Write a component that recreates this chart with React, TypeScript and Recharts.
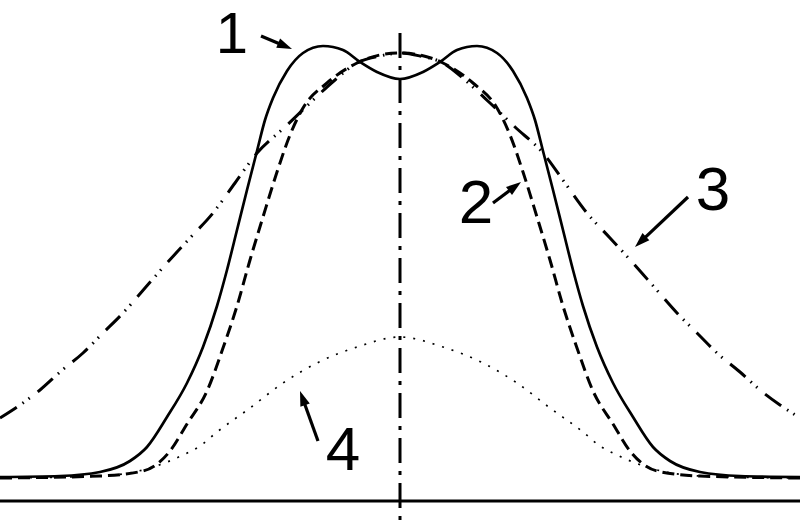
import React from 'react';
import { LineChart, Line, XAxis, YAxis, ReferenceLine } from 'recharts';

// curve 1 (solid)
const solidX = [-400, -340, -300, -270, -253, -233, -213, -197, -183, -173, -163, -153, -143, -135, -127, -113, -97, -77, -57, -40, -23, 0, 23, 40, 57, 77, 97, 113, 127, 135, 143, 153, 163, 173, 183, 197, 213, 233, 253, 270, 300, 340, 400];
const solidY = [1, 2, 6, 17, 31, 61, 95, 131, 172, 208, 248, 288, 327, 358, 380, 407, 425, 432, 428, 416, 406, 399, 406, 416, 428, 432, 425, 407, 380, 358, 327, 288, 248, 208, 172, 131, 95, 61, 31, 17, 6, 2, 1];

// curve 2 (dashed)
const dashedX = [-400, -300, -257, -230, -213, -193, -177, -163, -150, -137, -123, -110, -97, -73, -43, -20, 0, 20, 43, 73, 97, 110, 123, 137, 150, 163, 177, 193, 213, 230, 257, 300, 400];
const dashedY = [0, 2, 7, 27, 54, 87, 130, 172, 218, 261, 306, 343, 370, 395, 415, 423, 425, 423, 415, 395, 370, 343, 306, 261, 218, 172, 130, 87, 54, 27, 7, 2, 0];

// curve 3 (dash-dot-dot)
const wideX = [-400, -380, -360, -340, -317, -297, -277, -255, -233, -210, -187, -165, -143, -115, -90, -65, -43, -20, 0, 20, 43, 65, 90, 115, 143, 165, 187, 210, 233, 255, 277, 297, 317, 340, 360, 380, 400];
const wideY = [60, 73, 88, 106, 125, 145, 165, 190, 215, 240, 265, 295, 325, 351, 375, 398, 415, 422, 425, 422, 415, 398, 375, 351, 325, 295, 265, 240, 215, 190, 165, 145, 125, 106, 88, 73, 60];

// curve 4 (dotted)
const lowX = [-400, -300, -250, -217, -200, -183, -150, -117, -83, -43, 0, 43, 83, 117, 150, 183, 200, 217, 250, 300, 400];
const lowY = [0, 2, 10, 23, 32, 46, 70, 95, 115, 131, 141, 131, 115, 95, 70, 46, 32, 23, 10, 2, 0];

const toRows = (xs: number[], ys: number[]) => xs.map((x, i) => ({ x, y: ys[i] }));

const solidData = toRows(solidX, solidY);
const dashedData = toRows(dashedX, dashedY);
const wideData = toRows(wideX, wideY);
const lowData = toRows(lowX, lowY);

const W = 800;
const H = 526;

const labels = [
  { text: '1', size: 58, tx: 232, ty: 53, from: [261, 36], to: [292, 49] },
  { text: '2', size: 62, tx: 476, ty: 223, from: [493, 203], to: [521, 182] },
  { text: '3', size: 62, tx: 713, ty: 210, from: [688, 197], to: [635, 247] },
  { text: '4', size: 62, tx: 343, ty: 470, from: [318, 441], to: [300, 391] },
];

const Arrow = ({ from, to }: { from: number[]; to: number[] }) => {
  const dx = to[0] - from[0];
  const dy = to[1] - from[1];
  const len = Math.sqrt(dx * dx + dy * dy);
  const ux = dx / len;
  const uy = dy / len;
  const head = 15;
  const half = 5;
  const bx = to[0] - ux * head;
  const by = to[1] - uy * head;
  const pts = `${to[0]},${to[1]} ${bx - uy * half},${by + ux * half} ${bx + uy * half},${by - ux * half}`;
  return (
    <g>
      <line x1={from[0]} y1={from[1]} x2={bx + ux * 2} y2={by + uy * 2} stroke="#000" strokeWidth={3.2} />
      <polygon points={pts} fill="#000" />
    </g>
  );
};

export default function App() {
  return (
    <div style={{ position: 'absolute', left: 0, top: 0, width: W, height: H, background: '#fff' }}>
      <LineChart width={W} height={H} margin={{ top: 0, right: 0, bottom: 0, left: 0 }}>
        <XAxis dataKey="x" type="number" domain={[-400, 400]} hide allowDataOverflow />
        <YAxis type="number" domain={[-48, 478]} hide allowDataOverflow />
        <ReferenceLine y={-23} stroke="#000" strokeWidth={3} />
        <ReferenceLine
          segment={[{ x: 0, y: 445 }, { x: 0, y: -48 }]}
          stroke="#000"
          strokeWidth={3}
          strokeDasharray="25 8 4 8"
        />
        <Line data={lowData} dataKey="y" type="monotone" stroke="#000" strokeWidth={1.7} strokeDasharray="2 8" dot={false} activeDot={false} isAnimationActive={false} />
        <Line data={wideData} dataKey="y" type="monotone" stroke="#000" strokeWidth={3} strokeDasharray="20 7 1.5 6 1.5 10" dot={false} activeDot={false} isAnimationActive={false} />
        <Line data={dashedData} dataKey="y" type="monotone" stroke="#000" strokeWidth={3} strokeDasharray="12 6" dot={false} activeDot={false} isAnimationActive={false} />
        <Line data={solidData} dataKey="y" type="monotone" stroke="#000" strokeWidth={2.7} dot={false} activeDot={false} isAnimationActive={false} />
      </LineChart>
      <svg width={W} height={H} style={{ position: 'absolute', left: 0, top: 0, pointerEvents: 'none' }}>
        {labels.map((l) => (
          <g key={l.text}>
            <text x={l.tx} y={l.ty} textAnchor="middle" fontSize={l.size} fontFamily="'Liberation Sans', Arial, sans-serif" fill="#000">
              {l.text}
            </text>
            <Arrow from={l.from} to={l.to} />
          </g>
        ))}
      </svg>
    </div>
  );
}
